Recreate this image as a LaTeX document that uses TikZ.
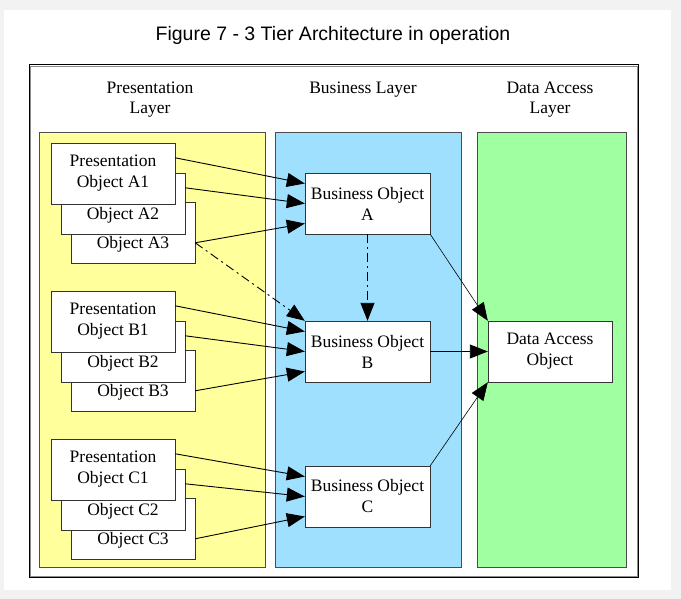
\documentclass[tikz,border=0pt]{standalone}
\usepackage{fontspec}
\setmainfont{Liberation Serif}
\newfontfamily\titlefont{Liberation Sans}
\usetikzlibrary{arrows.meta,calc,positioning}

\definecolor{preyellow}{RGB}{255,255,156}
\definecolor{busblue}{RGB}{160,224,255}
\definecolor{datagreen}{RGB}{160,255,160}

\tikzset{
  obj/.style={draw=black!80, fill=white, minimum width=124pt, minimum height=61pt, inner sep=0pt, align=center, font=\fontsize{17.5}{21}\selectfont},
  layer/.style={draw=black!70, line width=0.8pt},
  head/.style={align=center, font=\fontsize{17.5}{20}\selectfont},
  conn/.style={-{Triangle[length=18pt,width=14pt]}, line width=0.9pt, black},
  dashconn/.style={conn, dash pattern=on 9pt off 4pt on 2pt off 4pt},
}

\begin{document}
\begin{tikzpicture}[x=1pt,y=-1pt]
\useasboundingbox (0,0) rectangle (681,599);
\fill[black!5] (0,0) rectangle (681,599);
\fill[white] (4,10) rectangle (671,590);
\node[font=\titlefont\fontsize{19.5}{22}\selectfont] (title) at (333,35) {Figure 7 - 3 Tier Architecture in operation};
% frame and the three layers
\draw[black!45] (30,66) rectangle (637,576);
\draw[black, line width=1pt] (29,65) rectangle (638,577);
\draw[layer, fill=preyellow] (39,132) rectangle (265,567);
\draw[layer, fill=busblue] (275,132) rectangle (461,567);
\draw[layer, fill=datagreen] (477,132) rectangle (626,567);
\node[head] (presHead) at (150,100) {Presentation\\Layer};
\node[head] (busHead) at (363,90) {Business Layer};
\node[head] (dataHead) at (550,100) {Data Access\\Layer};
% presentation objects and business objects
\foreach \g/\dy/\by in {A/0/0,B/148/148,C/296/293}{
  \node[obj] (\g3) at (133,232.5+\dy) {\strut\\Object \g3};
  \node[obj] (\g2) at (123,203.5+\dy) {\strut\\Object \g2};
  \node[obj] (\g1) at (113,173.5+\dy) {Presentation\\Object \g1};
  \node[obj, minimum width=125pt] (bus\g) at (367.5,203.5+\by) {Business Object\\\g};
  \draw[conn] ($(\g1.north east)+(0,15)$) -- ($(bus\g.west)+(0,-20)$);
  \draw[conn] ($(\g2.north east)+(0,15)$) -- (bus\g.west);
  \draw[conn] ($(\g3.north east)+(0,41)$) -- ($(bus\g.west)+(0,20)$);
}
\node[obj] (dao) at (550,351.5) {Data Access\\Object};
\draw[dashconn] ($(A3.north east)+(0,41)$) -- (busB.north west);
\draw[dashconn] (busA.south) -- (busB.north);
\draw[conn, line width=0.6pt] (busA.south east) -- (dao.north west);
\draw[conn] (busB.east) -- (dao.west);
\draw[conn, line width=0.6pt] (busC.north east) -- (dao.south west);
\end{tikzpicture}
\end{document}
